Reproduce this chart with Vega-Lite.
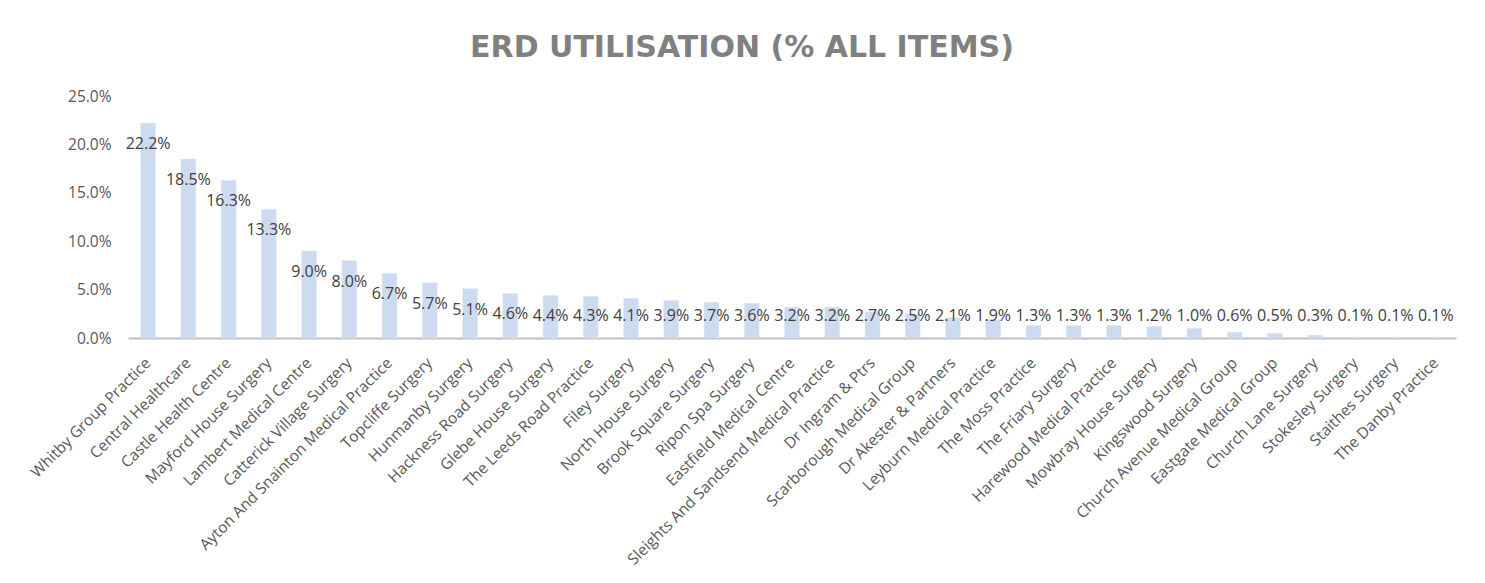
{
  "$schema": "https://vega.github.io/schema/vega-lite/v6.json",
  "autosize": "none",
  "width": 1328,
  "height": 242,
  "padding": {"left": 128, "top": 96, "right": 29, "bottom": 245},
  "background": "white",
  "title": {
    "text": "ERD UTILISATION (% ALL ITEMS)",
    "font": "DejaVu Sans",
    "fontSize": 30,
    "fontWeight": "bold",
    "color": "#808080",
    "anchor": "middle",
    "dx": -50,
    "offset": 26
  },
  "data": {
    "values": [
      {"practice": "Whitby Group Practice", "pct": 0.222},
      {"practice": "Central Healthcare", "pct": 0.185},
      {"practice": "Castle Health Centre", "pct": 0.163},
      {"practice": "Mayford House Surgery", "pct": 0.133},
      {"practice": "Lambert Medical Centre", "pct": 0.090},
      {"practice": "Catterick Village Surgery", "pct": 0.080},
      {"practice": "Ayton And Snainton Medical Practice", "pct": 0.067},
      {"practice": "Topcliffe Surgery", "pct": 0.057},
      {"practice": "Hunmanby Surgery", "pct": 0.051},
      {"practice": "Hackness Road Surgery", "pct": 0.046},
      {"practice": "Glebe House Surgery", "pct": 0.044},
      {"practice": "The Leeds Road Practice", "pct": 0.043},
      {"practice": "Filey Surgery", "pct": 0.041},
      {"practice": "North House Surgery", "pct": 0.039},
      {"practice": "Brook Square Surgery", "pct": 0.037},
      {"practice": "Ripon Spa Surgery", "pct": 0.036},
      {"practice": "Eastfield Medical Centre", "pct": 0.032},
      {"practice": "Sleights And Sandsend Medical Practice", "pct": 0.032},
      {"practice": "Dr Ingram & Ptrs", "pct": 0.027},
      {"practice": "Scarborough Medical Group", "pct": 0.025},
      {"practice": "Dr Akester & Partners", "pct": 0.021},
      {"practice": "Leyburn Medical Practice", "pct": 0.019},
      {"practice": "The Moss Practice", "pct": 0.013},
      {"practice": "The Friary Surgery", "pct": 0.013},
      {"practice": "Harewood Medical Practice", "pct": 0.013},
      {"practice": "Mowbray House Surgery", "pct": 0.012},
      {"practice": "Kingswood Surgery", "pct": 0.010},
      {"practice": "Church Avenue Medical Group", "pct": 0.006},
      {"practice": "Eastgate Medical Group", "pct": 0.005},
      {"practice": "Church Lane Surgery", "pct": 0.003},
      {"practice": "Stokesley Surgery", "pct": 0.001},
      {"practice": "Staithes Surgery", "pct": 0.001},
      {"practice": "The Danby Practice", "pct": 0.001}
    ]
  },
  "encoding": {
    "x": {
      "field": "practice",
      "type": "nominal",
      "sort": null,
      "scale": {"paddingInner": 0.627, "paddingOuter": 0.3135},
      "axis": {
        "title": null,
        "labelAngle": -45,
        "labelAlign": "right",
        "labelBaseline": "middle",
        "labelPadding": 22,
        "labelFont": "Open Sans",
        "labelFontSize": 15.5,
        "labelColor": "#595959",
        "labelLimit": 400,
        "ticks": false,
        "domainColor": "#bfbfbf",
        "domainWidth": 2,
        "labelOverlap": false
      }
    }
  },
  "layer": [
    {
      "mark": {"type": "bar", "color": "#cddbf0", "stroke": "#e4ecf8", "strokeWidth": 0.5},
      "encoding": {
        "y": {
          "field": "pct",
          "type": "quantitative",
          "scale": {"domain": [0, 0.25], "nice": false},
          "axis": {
            "title": null,
            "format": ".1%",
            "values": [0, 0.05, 0.1, 0.15, 0.2, 0.25],
            "grid": false,
            "domain": false,
            "ticks": false,
            "labelPadding": 17,
            "labelFont": "Open Sans",
            "labelFontSize": 15.5,
            "labelColor": "#595959"
          }
        }
      }
    },
    {
      "mark": {"type": "text", "baseline": "middle", "align": "center", "dy": 21, "font": "Open Sans", "fontSize": 16, "color": "#404040"},
      "encoding": {
        "y": {
          "field": "pct",
          "type": "quantitative",
          "scale": {"domain": [0.044, 0.25], "range": [199.4, 0], "clamp": true, "nice": false, "zero": false},
          "axis": null
        },
        "text": {"field": "pct", "type": "quantitative", "format": ".1%"}
      }
    }
  ],
  "resolve": {"scale": {"y": "independent"}},
  "config": {
    "view": {"stroke": null}
  }
}
